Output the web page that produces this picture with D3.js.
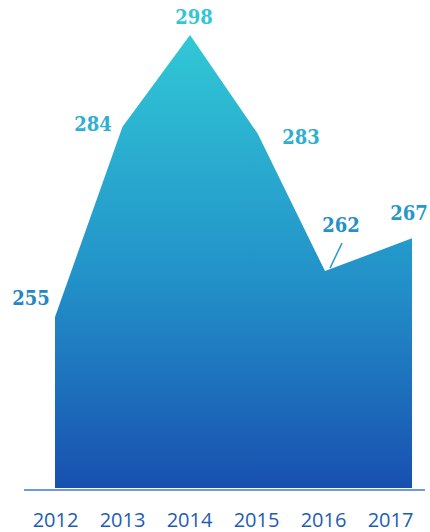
<!DOCTYPE html>
<html><head><meta charset="utf-8">
<script src="https://cdn.jsdelivr.net/npm/d3@7"></script>
<style>html,body{margin:0;padding:0;background:#fff;}svg{display:block;}</style>
</head><body>
<svg id="chart" width="430" height="532"></svg>
<script>
const years = ["2012","2013","2014","2015","2016","2017"];
const values = [255, 284, 298, 283, 262, 267];
const labelText = ["255","284","298","283","262","267"];

const svg = d3.select("#chart");
const xArea = d3.scaleLinear().domain([2012, 2016, 2017]).range([55, 325, 412]);
const xAxisS = d3.scalePoint().domain(years).range([55, 390]);
const y = d3.scaleLinear().domain([255, 298]).range([317, 35]);
const baseY = 488;

const defs = svg.append("defs");
const grad = defs.append("linearGradient").attr("id","g")
  .attr("gradientUnits","userSpaceOnUse").attr("x1",0).attr("y1",35).attr("x2",0).attr("y2",baseY);
grad.append("stop").attr("offset","0").attr("stop-color","#31c8d6");
grad.append("stop").attr("offset","0.55").attr("stop-color","#2290c8");
grad.append("stop").attr("offset","1").attr("stop-color","#1850b0");

const data = years.map((d,i)=>({year:+d, v:values[i], t:labelText[i]}));
const area = d3.area().x(d=>xArea(d.year)).y0(baseY).y1(d=>y(d.v)).curve(d3.curveLinear);
svg.append("path").datum(data).attr("d", area).attr("fill","url(#g)");

// baseline
svg.append("line").attr("x1",24).attr("x2",425).attr("y1",baseY+2).attr("y2",baseY+2)
  .attr("stroke","#3d78cc").attr("stroke-width",1.5);

// value labels
const offs = [[-24,-12],[-29.5,4],[4,-11],[43.5,10.5],[16,-39],[-3,-18]];
const lblColor = d3.scaleLinear().domain([35, 320]).range(["#35c4d6","#2386c4"]);
svg.selectAll("text.val").data(data).enter().append("text")
  .attr("class","val")
  .attr("x",(d,i)=>xArea(d.year)+offs[i][0])
  .attr("y",(d,i)=>y(d.v)+offs[i][1])
  .attr("text-anchor","middle")
  .attr("font-family","'DejaVu Serif Condensed', 'DejaVu Serif', serif")
  .attr("font-stretch","condensed")
  .attr("font-weight","bold")
  .attr("font-size",20)
  .attr("fill",d=>lblColor(y(d.v)))
  .text(d=>d.t);

// leader line for 2016
const i16 = 4;
svg.append("line")
  .attr("x1", xArea(+years[i16])+17).attr("y1", y(values[i16])-28)
  .attr("x2", xArea(+years[i16])+5).attr("y2", y(values[i16])-3)
  .attr("stroke","#2a9ad0").attr("stroke-width",1.5);

// axis labels
const axis = d3.axisBottom(xAxisS).tickSize(0).tickPadding(0);
const g = svg.append("g").attr("transform",`translate(0,${513})`).call(axis);
g.select(".domain").remove();
g.selectAll("text").attr("font-family","'Open Sans', sans-serif").attr("font-size",20)
  .attr("fill","#1e5cb4");
</script>
</body></html>
